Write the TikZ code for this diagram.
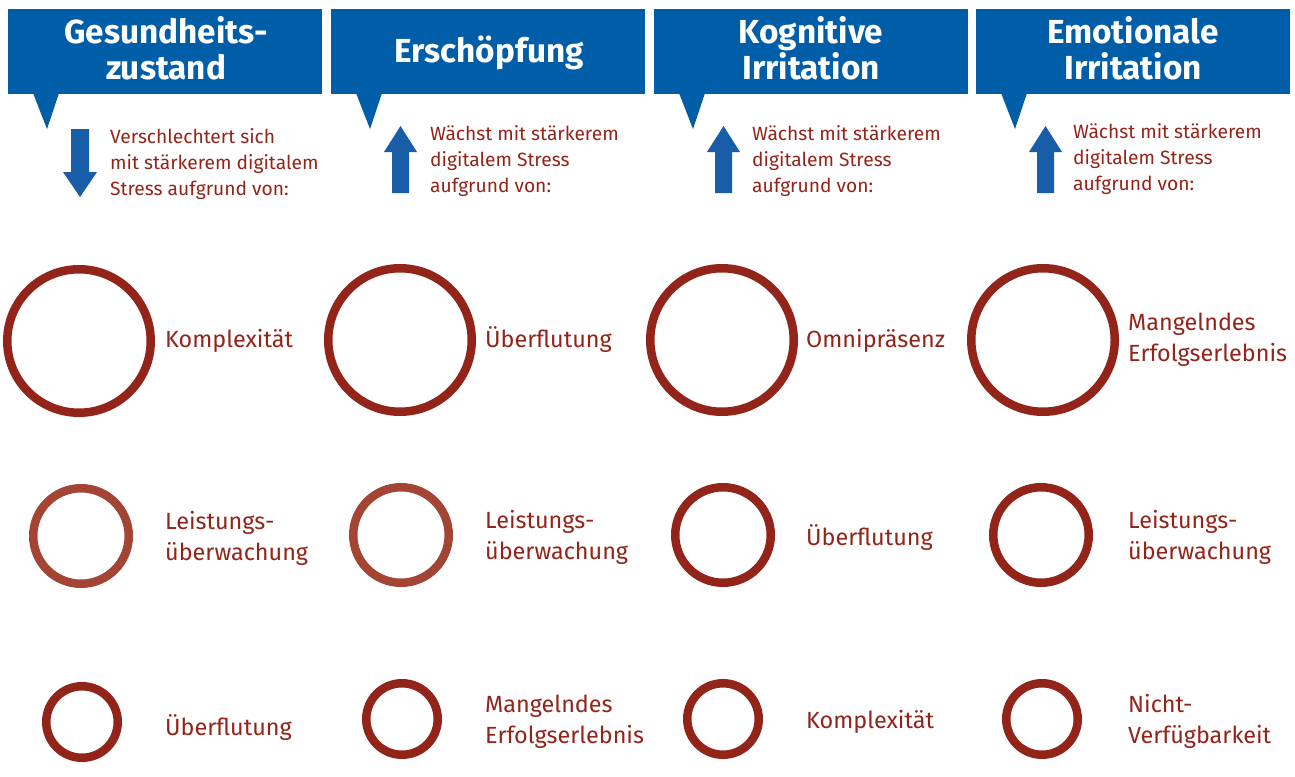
\documentclass[tikz,border=0pt]{standalone}
\usepackage{fontspec}
\setmainfont{Fira Sans}
\definecolor{hblue}{HTML}{005EA8}
\definecolor{ablue}{HTML}{175DA7}
\definecolor{dred}{HTML}{93241A}
\definecolor{lred}{HTML}{A44435}
\newcommand\twoL[2]{\vtop{\hbox{#1}\hbox{#2}}}
\newcommand\threeL[3]{\vtop{\hbox{#1}\hbox{#2}\hbox{#3}}}
\newcommand\hdrtwo[2]{\vtop{\hbox to 300pt{\hfil #1\hfil}\hbox to 300pt{\hfil #2\hfil}}}
\begin{document}
\begin{tikzpicture}[x=1pt,y=-1pt,
  hdrbox/.style={rectangle, fill=hblue, minimum width=314pt, minimum height=85pt, inner sep=0pt, outer sep=0pt},
  hdrtext/.style={anchor=base, inner sep=0pt, text=white, font=\fontsize{33.3}{36}\selectfont\bfseries},
  subtext/.style={anchor=base west, inner sep=0pt, text=dred, font=\fontsize{19.2}{26}\selectfont},
  labtext/.style={anchor=base west, inner sep=0pt, text=dred, font=\fontsize{23.4}{31.5}\selectfont},
  ring/.style={circle, draw=dred, line width=8.5pt, inner sep=0pt, outer sep=0pt},
  ringlight/.style={ring, draw=lred},
  bigring/.style={minimum size=143.5pt},
  midring/.style={minimum size=95.5pt},
  smallring/.style={minimum size=71.5pt},
  pointer/.style={fill=hblue},
  arrowshape/.style={fill=ablue}
]
\useasboundingbox[fill=white] (0,0) rectangle (1295,776);

% header boxes
\node[hdrbox] (h1) at (165,51.5) {};
\node[hdrbox] (h2) at (488,51.5) {};
\node[hdrbox] (h3) at (811,51.5) {};
\node[hdrbox] (h4) at (1133,51.5) {};
\node[hdrtext] (t1) at (166,44) {\hdrtwo{Gesundheits-}{zustand}};
\node[hdrtext] (t2) at (489,63) {Erschöpfung};
\node[hdrtext] (t3) at (811,44) {\hdrtwo{Kognitive}{Irritation}};
\node[hdrtext] (t4) at (1133,44) {\hdrtwo{Emotionale}{Irritation}};

% pointers
\foreach \L in {8,331,654,976}{
  \fill[pointer] (\L+25,93) -- (\L+51,93) -- (\L+39,129) -- cycle;
}

% arrows
\fill[arrowshape] (71,129) -- (89,129) -- (89,172) -- (97,172) -- (80,197) -- (63,172) -- (71,172) -- cycle;
\foreach \L in {331,654,976}{
  \fill[arrowshape] (\L+61,193) -- (\L+78,193) -- (\L+78,152) -- (\L+86,152) -- (\L+69.5,126) -- (\L+53,152) -- (\L+61,152) -- cycle;
}

% subtitles
\node[subtext] (s1) at (110,143) {\threeL{Verschlechtert sich}{mit stärkerem digitalem}{Stress aufgrund von:}};
\node[subtext] (s2) at (430,140) {\threeL{Wächst mit stärkerem}{digitalem Stress}{aufgrund von:}};
\node[subtext] (s3) at (752,140) {\threeL{Wächst mit stärkerem}{digitalem Stress}{aufgrund von:}};
\node[subtext] (s4) at (1073,138) {\threeL{Wächst mit stärkerem}{digitalem Stress}{aufgrund von:}};

% rings
\node[ring, bigring] (c11) at (79,341) {};
\node[ring, bigring] (c21) at (400,340) {};
\node[ring, bigring] (c31) at (722,340) {};
\node[ring, bigring] (c41) at (1043,340) {};
\node[ringlight, midring] (c12) at (81,536) {};
\node[ringlight, midring] (c22) at (401,535) {};
\node[ring, midring] (c32) at (723,535) {};
\node[ring, midring] (c42) at (1041,535) {};
\node[ring, smallring] (c13) at (82,722) {};
\node[ring, smallring] (c23) at (402,719) {};
\node[ring, smallring] (c33) at (723,719) {};
\node[ring, smallring] (c43) at (1042,719) {};

% labels
\node[labtext] (l11) at (165,347) {Komplexität};
\node[labtext] (l21) at (485,347) {Überflutung};
\node[labtext] (l31) at (806,347) {Omnipräsenz};
\node[labtext] (l41) at (1128,330) {\twoL{Mangelndes}{Erfolgserlebnis}};
\node[labtext] (l12) at (165,529) {\twoL{Leistungs-}{überwachung}};
\node[labtext] (l22) at (485,528) {\twoL{Leistungs-}{überwachung}};
\node[labtext] (l32) at (806,545) {Überflutung};
\node[labtext] (l42) at (1128,528) {\twoL{Leistungs-}{überwachung}};
\node[labtext] (l13) at (165,735) {Überflutung};
\node[labtext] (l23) at (485,712) {\twoL{Mangelndes}{Erfolgserlebnis}};
\node[labtext] (l33) at (806,728) {Komplexität};
\node[labtext] (l43) at (1128,712) {\twoL{Nicht-}{Verfügbarkeit}};
\end{tikzpicture}
\end{document}
